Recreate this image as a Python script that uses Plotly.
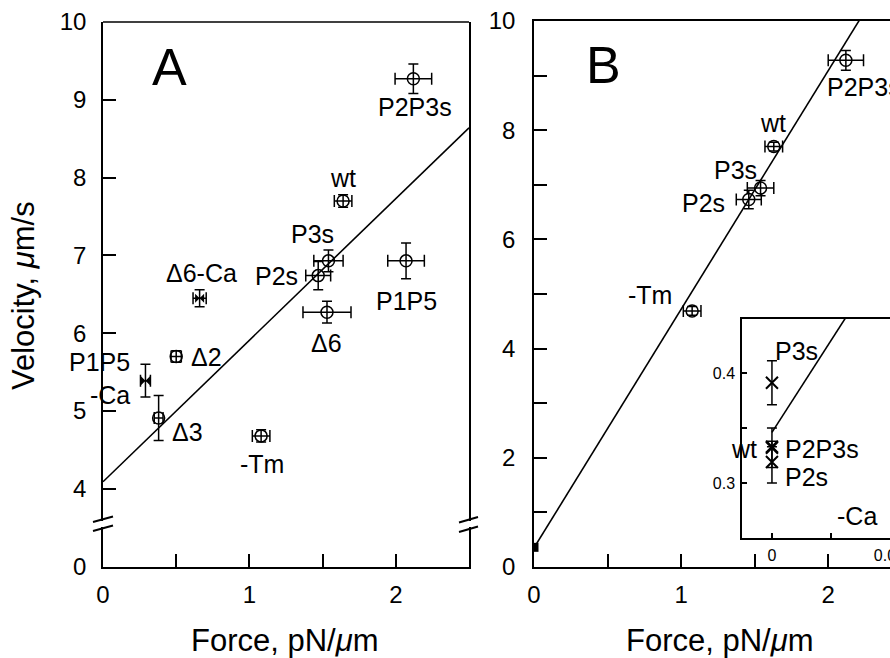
import plotly.graph_objects as go

W, H = 890, 658
FONT = "Liberation Sans, Arial, sans-serif"

# ---------------- data ----------------
# Panel A (open circles)
a_names = ["P2P3s", "wt", "P3s", "P2s", "P1P5", "Δ6", "Δ2", "Δ3", "-Tm"]
a_force = [2.12, 1.64, 1.54, 1.47, 2.07, 1.53, 0.50, 0.38, 1.08]
a_force_err = [0.125, 0.06, 0.10, 0.085, 0.125, 0.164, 0.035, 0.03, 0.06]
a_vel = [9.27, 7.70, 6.93, 6.74, 6.93, 6.27, 5.70, 4.91, 4.68]
a_vel_err = [0.19, 0.08, 0.14, 0.18, 0.23, 0.14, 0.075, 0.29, 0.08]
# Panel A, -Ca points
a_ca_names = ["Δ6-Ca", "P1P5<br>-Ca"]
a_ca_force = [0.66, 0.29]
a_ca_force_err = [0.045, 0.034]
a_ca_vel = [6.45, 5.39]
a_ca_vel_err = [0.11, 0.21]
a_fit = (4.09, 1.82)  # intercept, slope

# Panel B
b_names = ["P2P3s", "wt", "P3s", "P2s", "-Tm"]
b_force = [2.12, 1.63, 1.54, 1.46, 1.075]
b_force_err = [0.12, 0.06, 0.09, 0.085, 0.06]
b_vel = [9.28, 7.70, 6.94, 6.73, 4.69]
b_vel_err = [0.18, 0.08, 0.14, 0.17, 0.08]
b_ca_force = [0.0]
b_ca_vel = [0.36]
b_fit = (0.35, 4.37)

# Inset (-Ca)
in_names = ["P3s", "wt", "P2P3s", "P2s"]
in_force = [0.0, 0.0, 0.0, 0.0]
in_vel = [0.391, 0.332, 0.333, 0.319]
in_vel_err = [0.02, 0.018, 0.0, 0.019]
in_fit = (0.346, 4.15)

a_xticks = [0, 0.5, 1, 1.5, 2]
a_xtext = ["0", "", "1", "", "2"]
a_yticks = [4, 5, 6, 7, 8, 9, 10]
b_yticks = [0, 1, 2, 3, 4, 5, 6, 7, 8, 9, 10]
b_ytext = ["0", "", "2", "", "4", "", "6", "", "8", "", "10"]
in_xticks = [0, 0.02, 0.04]
in_xtext = ["0", "", "0.04"]
in_yticks = [0.3, 0.35, 0.4]
in_ytext = ["0.3", "", "0.4"]


def px(x):
    return x / W


def py(y):
    return 1 - y / H


fig = go.Figure()

err_style = dict(type="data", color="black", thickness=1.5)
circle = dict(symbol="circle-open", size=12, color="black", line=dict(width=1.5, color="black"))

# ---- Panel A ----
# empty trace so the lower (broken-axis) segment of panel A is drawn
fig.add_trace(go.Scatter(x=[], y=[], mode="markers", xaxis="x", yaxis="y", showlegend=False))
fig.add_trace(go.Scatter(
    x=a_force, y=a_vel, mode="markers", marker=circle,
    error_x=dict(array=a_force_err, width=6, **err_style),
    error_y=dict(array=a_vel_err, width=5, **err_style),
    xaxis="x2", yaxis="y2", showlegend=False))
fig.add_trace(go.Scatter(
    x=a_ca_force, y=a_ca_vel, mode="markers",
    marker=dict(symbol="bowtie", size=9, color="black"),
    error_x=dict(array=a_ca_force_err, width=6, **err_style),
    error_y=dict(array=a_ca_vel_err, width=5, **err_style),
    xaxis="x2", yaxis="y2", showlegend=False))
fig.add_trace(go.Scatter(
    x=[0, 2.5], y=[a_fit[0], a_fit[0] + a_fit[1] * 2.5], mode="lines",
    line=dict(color="black", width=1.6), xaxis="x2", yaxis="y2", showlegend=False))

# ---- Panel B ----
fig.add_trace(go.Scatter(
    x=b_force, y=b_vel, mode="markers", marker=circle,
    error_x=dict(array=b_force_err, width=6, **err_style),
    error_y=dict(array=b_vel_err, width=5, **err_style),
    xaxis="x3", yaxis="y3", showlegend=False))
fig.add_trace(go.Scatter(
    x=b_ca_force, y=b_ca_vel, mode="markers",
    marker=dict(symbol="square", size=9, color="black"),
    xaxis="x3", yaxis="y3", showlegend=False))
fig.add_trace(go.Scatter(
    x=[0, 2.42], y=[b_fit[0], b_fit[0] + b_fit[1] * 2.42], mode="lines",
    line=dict(color="black", width=1.6), xaxis="x3", yaxis="y3", showlegend=False))

# ---- Inset ----
fig.add_trace(go.Scatter(
    x=in_force, y=in_vel, mode="markers",
    marker=dict(symbol="x-thin", size=12, color="black", line=dict(width=2, color="black")),
    error_y=dict(array=in_vel_err, width=5, **err_style),
    xaxis="x4", yaxis="y4", showlegend=False, cliponaxis=False))
fig.add_trace(go.Scatter(
    x=[0, 0.04], y=[in_fit[0], in_fit[0] + in_fit[1] * 0.04], mode="lines",
    line=dict(color="black", width=1.6), xaxis="x4", yaxis="y4", showlegend=False))

# ---------------- axes ----------------
ax_common = dict(showline=True, linecolor="black", linewidth=1.5, ticks="inside",
                 tickcolor="black", tickwidth=1.5, showgrid=False, zeroline=False,
                 automargin=False,
                 tickfont=dict(family=FONT, size=24, color="black"))

A_dom = [px(103), px(469)]
fig.update_layout(
    xaxis=dict(domain=A_dom, range=[0, 2.5], anchor="y", tickvals=a_xticks, ticktext=a_xtext,
               ticklen=13, ticklabelstandoff=5, **ax_common),
    yaxis=dict(domain=[py(567), py(527)], range=[0, 0.514], anchor="x", tickvals=[0],
               ticklen=13, mirror=True, ticklabelstandoff=10, **ax_common),
    xaxis2=dict(domain=A_dom, range=[0, 2.5], anchor="y2", visible=False, automargin=False),
    yaxis2=dict(domain=[py(521), py(22)], range=[3.586, 10], anchor="x2", tickvals=a_yticks,
                ticklen=13, mirror=True, ticklabelstandoff=10, **ax_common),
    xaxis3=dict(domain=[px(534), 1], range=[0, 2.42], anchor="y3", tickvals=a_xticks,
                ticktext=a_xtext, ticklen=13, mirror=True, ticklabelstandoff=5, **ax_common),
    yaxis3=dict(domain=[py(567), py(21)], range=[0, 10], anchor="x3", tickvals=b_yticks,
                ticktext=b_ytext, ticklen=13, ticklabelstandoff=12, **ax_common),
)
in_common = dict(ax_common)
in_common["tickfont"] = dict(family=FONT, size=16, color="black")
fig.update_layout(
    xaxis4=dict(domain=[px(742), 1], range=[-0.0102, 0.0402], anchor="y4", tickvals=in_xticks,
                ticktext=in_xtext, ticklen=5, mirror=True, ticklabelstandoff=2,
                ticklabeloverflow="allow", **in_common),
    yaxis4=dict(domain=[py(538), py(319)], range=[0.25, 0.449], anchor="x4", tickvals=in_yticks,
                ticktext=in_ytext, ticklen=5, ticklabelstandoff=2, **in_common),
)

# ---------------- text ----------------
lab_font = dict(family=FONT, size=25, color="black")

a_label_pos = {
    "P2P3s": (2.13, 8.91, "center"), "wt": (1.64, 8.0, "center"), "P3s": (1.43, 7.28, "center"),
    "P2s": (1.345, 6.74, "right"), "P1P5": (2.07, 6.41, "center"), "Δ6": (1.53, 5.87, "center"),
    "Δ2": (0.587, 5.69, "left"), "Δ3": (0.457, 4.73, "left"), "-Tm": (1.085, 4.32, "center"),
    "Δ6-Ca": (0.676, 6.77, "center"), "P1P5<br>-Ca": (0.20, 5.42, "right"),
}
for name in a_names + a_ca_names:
    x, y, anc = a_label_pos[name]
    fig.add_annotation(x=x, y=y, xref="x2", yref="y2", text=name, showarrow=False,
                       xanchor=anc, yanchor="middle", align="right", font=lab_font)

b_label_pos = {
    "P2P3s": (1.98, 8.79, "left"), "wt": (1.626, 8.13, "center"), "P3s": (1.367, 7.27, "center"),
    "P2s": (1.313, 6.67, "right"), "-Tm": (0.952, 4.98, "right"),
}
for name in b_names:
    x, y, anc = b_label_pos[name]
    fig.add_annotation(x=x, y=y, xref="x3", yref="y3", text=name, showarrow=False,
                       xanchor=anc, yanchor="middle", font=lab_font)

in_label_pos = {
    "P3s": (0.0085, 0.42, "center"), "wt": (-0.0044, 0.331, "right"),
    "P2P3s": (0.0037, 0.331, "left"), "P2s": (0.0037, 0.3055, "left"),
}
for name in in_names:
    x, y, anc = in_label_pos[name]
    fig.add_annotation(x=x, y=y, xref="x4", yref="y4", text=name, showarrow=False,
                       xanchor=anc, yanchor="middle", font=lab_font)
fig.add_annotation(x=0.0288, y=0.27, xref="x4", yref="y4", text="-Ca", showarrow=False,
                   xanchor="center", yanchor="middle", font=lab_font)

# panel letters
fig.add_annotation(x=0.457, y=9.42, xref="x2", yref="y2", text="A", showarrow=False,
                   xanchor="center", yanchor="middle",
                   font=dict(family=FONT, size=52, color="black"))
fig.add_annotation(x=0.47, y=9.19, xref="x3", yref="y3", text="B", showarrow=False,
                   xanchor="center", yanchor="middle",
                   font=dict(family=FONT, size=52, color="black"))

# axis titles
title_font = dict(family=FONT, size=31, color="black")
fig.add_annotation(x=px(285), y=py(640), xref="paper", yref="paper",
                   text="Force, pN/<i>μ</i>m", showarrow=False, font=title_font,
                   xanchor="center", yanchor="middle", borderpad=0)
fig.add_annotation(x=px(720), y=py(640), xref="paper", yref="paper",
                   text="Force, pN/<i>μ</i>m", showarrow=False, font=title_font,
                   xanchor="center", yanchor="middle", borderpad=0)
fig.add_annotation(x=px(24), y=py(296), xref="paper", yref="paper", textangle=-90,
                   text="Velocity, <i>μ</i>m/s", showarrow=False, font=title_font,
                   xanchor="center", yanchor="middle", borderpad=0)

# ---------------- shapes: top border of A and axis break marks ----------------
shapes = [dict(type="line", xref="paper", yref="paper", x0=px(103), x1=px(469),
               y0=py(22), y1=py(22), line=dict(color="black", width=1.5))]
for (x0, y0, x1, y1) in [(93, 522, 113, 516.5), (93, 531, 113, 525.5),
                         (459, 522.5, 478, 517), (459, 532, 478, 526.5)]:
    shapes.append(dict(type="line", xref="paper", yref="paper", x0=px(x0), x1=px(x1),
                       y0=py(y0), y1=py(y1), line=dict(color="black", width=2)))

fig.update_layout(
    width=W, height=H, margin=dict(l=0, r=0, t=0, b=0),
    paper_bgcolor="white", plot_bgcolor="white", shapes=shapes,
    font=dict(family=FONT, color="black"),
)

fig.write_html("out.html", config={"displayModeBar": False},
               post_script="document.body.style.margin='0';document.body.style.overflow='hidden';")
